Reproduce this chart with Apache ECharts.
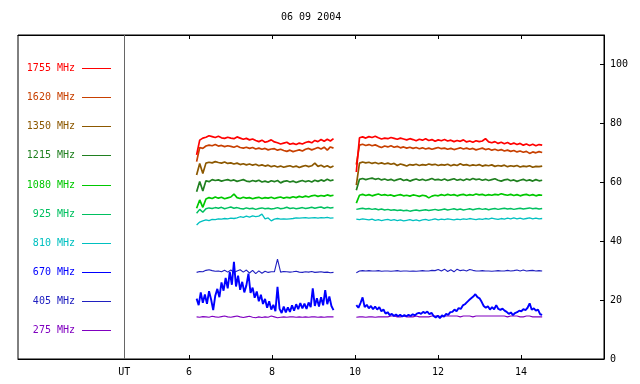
<!DOCTYPE html>
<html>
<head>
<meta charset="utf-8">
<script src="https://cdn.jsdelivr.net/npm/echarts@6/dist/echarts.min.js"></script>
<style>
html,body{margin:0;padding:0;background:#fff;}
#chart{width:640px;height:384px;}
</style>
</head>
<body>
<div id="chart"></div>
<script>
// ---- Data ----
const titleText = '06 09 2004';
const frequencies = ['1755 MHz','1620 MHz','1350 MHz','1215 MHz','1080 MHz','925 MHz','810 MHz','670 MHz','405 MHz','275 MHz'];
const xTickValues = [6, 8, 10, 12, 14];
const xUTValue = 4.434;
const yTickValues = [0, 20, 40, 60, 80, 100];
const seg1Range = [6.18, 9.48];   // UT hours covered by first block
const seg2Range = [10.03, 14.51]; // UT hours covered by second block

const f1755a = [69.3,74.3,75.0,75.3,75.8,75.5,75.2,75.6,75.1,74.9,75.3,75.0,74.8,75.4,75.0,74.6,74.9,74.4,74.7,74.2,73.8,74.3,73.6,73.9,74.4,73.7,73.4,73.0,73.3,73.6,72.9,73.2,72.8,73.3,73.0,73.5,73.8,73.4,74.2,73.8,74.5,73.9,74.6,74.0,74.8];
const f1755b = [63.5,75.1,75.4,75.0,75.5,75.2,75.6,75.1,74.7,75.0,74.8,75.2,74.9,74.6,75.0,74.7,74.4,74.8,74.5,74.1,74.6,74.3,74.8,74.2,74.5,73.9,74.4,74.1,74.5,74.0,74.3,73.8,74.2,73.9,74.4,73.7,74.0,73.6,74.1,73.8,74.0,74.8,73.7,73.4,73.8,73.2,73.6,73.1,73.5,72.9,73.3,72.8,73.2,72.6,73.0,72.5,72.9,72.4,72.8,72.6];

const f1620a = [67.0,71.8,71.5,72.3,72.6,72.4,72.8,72.3,72.5,72.1,72.4,72.2,71.9,72.3,71.8,71.6,71.9,71.5,71.8,71.3,71.6,71.2,71.5,71.0,71.3,71.4,70.9,71.2,70.8,70.5,70.9,70.4,70.7,71.0,70.6,71.2,71.5,71.0,71.4,71.8,71.3,71.9,70.9,72.0,71.6];
const f1620b = [66.0,72.6,72.9,72.5,72.8,72.4,72.7,72.2,71.8,72.3,72.0,72.4,71.9,72.2,71.7,72.0,71.6,71.9,71.5,71.8,71.4,71.7,71.3,71.6,71.2,71.5,71.8,71.4,71.6,71.2,71.5,71.1,71.4,71.7,71.3,71.6,71.2,71.5,71.0,71.3,71.6,71.1,71.4,70.9,71.2,70.8,71.1,70.6,70.9,70.5,70.8,70.3,70.6,70.2,70.5,69.8,70.3,70.0,70.4,70.1];

const f1350a = [62.5,66.4,63.0,66.5,66.8,66.6,67.0,66.7,66.5,66.9,66.4,66.6,66.2,66.5,66.0,66.3,65.9,66.2,65.8,66.1,65.6,65.9,65.5,65.8,65.3,65.6,65.2,65.5,65.1,65.4,65.6,65.2,65.5,65.0,65.4,65.7,65.3,65.6,66.5,65.4,65.8,65.2,65.6,65.0,65.5];
const f1350b = [59.0,66.5,66.9,66.6,66.8,66.4,66.7,66.3,66.6,66.2,66.5,66.1,66.4,65.7,66.2,65.9,65.5,66.0,65.8,66.1,65.7,66.0,65.8,66.2,65.9,66.1,65.7,66.0,65.8,66.1,65.6,66.0,65.7,66.3,65.8,66.0,65.6,65.9,65.7,66.0,65.5,65.8,65.6,65.9,65.4,65.7,65.5,65.8,65.3,65.6,65.4,65.7,65.2,65.5,65.3,65.6,65.1,65.4,65.3,65.5];

const f1215a = [56.8,60.3,57.0,60.5,60.2,60.9,60.6,60.8,60.4,60.7,60.9,60.5,60.8,60.3,60.6,60.9,60.4,60.2,60.6,60.3,60.7,60.1,60.4,60.0,60.5,60.2,60.6,59.8,60.3,60.5,60.1,60.4,59.9,60.3,60.6,60.2,60.5,60.1,60.7,60.3,60.8,60.4,61.0,60.5,60.8];
const f1215b = [57.3,61.0,61.3,60.9,61.2,61.4,61.0,61.3,60.8,61.1,60.7,61.0,60.5,60.9,61.2,60.6,60.9,60.4,60.8,61.1,60.7,61.0,60.6,60.9,61.3,60.8,61.0,60.7,61.1,60.6,60.9,61.2,60.7,61.0,60.6,61.1,60.8,61.3,60.9,61.1,60.7,61.0,60.6,60.9,61.2,60.7,60.4,60.8,61.0,60.5,60.8,60.3,60.7,61.0,60.5,60.8,60.4,60.9,60.5,60.7];

const f1080a = [51.2,54.0,51.5,54.3,54.8,54.5,55.0,54.6,54.9,54.4,54.7,55.0,56.0,54.8,54.5,54.9,54.6,54.8,54.4,54.7,54.9,54.5,54.8,54.6,54.9,54.5,54.8,55.0,54.6,54.9,54.7,55.1,54.8,55.2,54.9,55.3,55.0,55.4,55.6,55.2,55.5,55.3,55.7,55.4,55.6];
const f1080b = [52.9,55.6,55.9,55.5,55.8,55.4,55.7,56.0,55.6,55.8,55.5,55.7,55.3,55.6,55.8,55.4,55.6,55.3,55.7,55.5,55.2,55.6,55.4,54.7,55.3,55.6,55.4,55.8,55.5,55.9,55.6,55.8,55.4,55.7,55.9,55.5,55.8,55.6,56.0,55.7,55.9,55.5,55.8,55.6,55.9,55.7,56.1,55.8,55.6,55.9,55.5,55.8,55.4,55.7,55.9,55.5,55.8,55.4,55.7,55.6];

const f925a = [49.5,50.8,49.8,51.0,51.3,51.1,51.4,51.2,51.5,51.0,51.3,51.6,51.2,51.4,51.1,50.9,51.3,51.0,51.2,50.8,51.1,51.3,51.0,51.2,50.9,51.1,51.4,51.0,51.2,51.5,51.1,51.3,51.0,51.2,51.4,51.1,51.3,51.5,51.2,51.4,51.6,51.2,51.5,51.3,51.4];
const f925b = [50.8,51.0,51.2,50.9,51.1,50.8,51.0,50.7,50.9,50.6,50.8,50.5,50.7,50.4,50.6,50.3,50.5,50.2,50.4,50.6,50.3,50.5,50.7,50.4,50.6,50.8,50.5,50.7,50.9,50.6,50.8,51.0,50.7,50.9,50.6,50.8,51.0,50.7,50.9,51.1,50.8,51.0,50.7,50.9,51.1,50.8,51.0,51.2,50.9,51.1,50.8,51.0,51.2,50.9,51.1,51.3,51.0,51.2,50.9,51.1];

const f810a = [45.5,46.5,46.9,47.2,47.0,47.4,47.3,47.6,47.5,47.7,47.6,47.8,47.7,47.9,48.3,48.1,48.5,48.2,48.6,48.3,48.5,49.2,47.6,47.9,46.9,47.5,47.7,47.5,47.6,47.5,47.6,47.7,47.9,47.8,47.9,48.0,47.8,47.9,48.0,47.8,48.0,47.9,48.1,47.8,47.9];
const f810b = [47.5,47.3,47.6,47.4,47.2,47.5,47.1,47.3,47.0,47.2,47.4,47.1,47.3,47.0,47.2,46.9,47.1,47.3,47.0,47.2,46.9,47.2,47.4,47.1,47.3,47.6,47.2,47.5,47.3,47.6,47.4,47.2,47.5,47.3,47.6,47.4,47.7,47.5,47.3,47.6,47.4,47.7,47.5,47.8,47.6,47.4,47.7,47.5,47.8,47.6,47.9,47.6,47.8,47.5,47.7,47.9,47.6,47.8,47.6,47.7];

const f670a = [20.5,18.3,22.6,19.1,21.9,18.7,23.0,20.2,16.6,21.5,23.8,21.0,26.0,23.2,27.5,24.0,29.6,25.2,33.0,24.6,28.3,23.5,26.2,22.6,25.0,29.0,22.4,24.2,20.8,22.9,19.6,21.8,18.7,20.4,17.4,19.6,16.8,18.4,16.2,24.5,17.0,15.6,17.8,15.8,17.5,16.0,18.2,16.4,18.6,16.9,19.0,17.2,18.8,17.0,19.2,17.6,24.0,18.0,20.6,17.8,21.0,18.2,23.4,18.6,21.2,18.0,16.6];
const f670b = [18.3,17.4,19.0,20.9,17.6,18.4,17.2,18.0,16.9,17.8,16.8,17.6,16.2,16.8,15.4,15.9,14.9,15.3,14.6,15.1,14.5,15.0,14.4,14.9,14.5,15.0,14.6,15.2,14.8,15.4,15.7,15.3,16.0,15.6,16.1,15.2,15.7,14.6,14.1,14.7,13.9,14.8,14.4,15.3,15.0,15.9,16.0,16.8,16.2,17.3,17.0,18.2,18.6,19.3,20.0,20.6,21.2,22.0,21.0,20.6,19.4,18.0,17.4,17.9,16.8,17.6,16.9,18.3,17.0,16.7,17.1,16.4,16.0,15.3,15.8,14.9,15.6,15.9,16.4,16.2,16.9,16.6,17.4,18.9,16.7,17.2,16.4,16.8,15.2,15.0];

const f405a = [29.4,29.7,29.6,30.1,30.3,30.0,29.8,29.9,29.6,30.1,29.5,30.2,29.4,29.9,30.3,29.5,30.2,29.2,30.1,29.0,29.9,29.1,29.8,29.4,29.6,29.6,33.9,29.5,29.7,29.6,29.5,29.6,29.8,29.5,29.4,29.6,29.5,29.7,29.4,29.5,29.6,29.4,29.5,29.3,29.4];
const f405b = [29.3,29.9,30.0,29.9,30.0,29.9,29.9,30.0,29.8,29.9,29.9,29.8,29.9,30.0,29.8,29.9,29.9,29.8,29.9,29.8,29.9,30.0,29.9,29.9,30.1,30.0,30.4,29.9,30.5,29.7,30.3,29.6,30.5,30.0,30.2,29.9,30.4,30.1,29.9,29.9,30.0,29.9,29.9,29.8,29.9,30.0,29.9,29.9,30.1,29.9,30.0,30.2,29.9,30.2,29.9,30.0,30.1,29.9,30.0,29.9];

const f275a = [14.3,14.2,14.4,14.3,14.2,14.5,14.3,14.2,14.4,14.6,14.3,14.2,14.4,14.6,14.3,14.1,14.3,14.5,14.2,14.0,14.3,14.1,14.3,14.2,14.6,14.3,14.0,14.2,14.3,14.2,14.3,14.3,14.2,14.3,14.2,14.3,14.2,14.3,14.3,14.2,14.3,14.2,14.3,14.3,14.3];
const f275b = [14.2,14.3,14.3,14.2,14.3,14.3,14.2,14.3,14.3,14.3,14.3,14.6,14.6,14.3,14.3,14.6,14.3,14.3,14.3,14.6,14.3,14.3,14.3,14.3,14.6,14.6,14.6,14.3,14.6,14.6,14.6,14.6,14.6,14.3,14.6,14.6,14.6,14.3,14.6,14.6,14.6,14.6,14.6,14.6,14.6,14.6,14.6,14.6,14.3,14.6,14.6,14.6,14.3,14.3,14.6,14.6,14.3,14.3,14.3,14.3];

const seriesValues = {
  '1755 MHz': [f1755a, f1755b],
  '1620 MHz': [f1620a, f1620b],
  '1350 MHz': [f1350a, f1350b],
  '1215 MHz': [f1215a, f1215b],
  '1080 MHz': [f1080a, f1080b],
  '925 MHz':  [f925a,  f925b],
  '810 MHz':  [f810a,  f810b],
  '670 MHz':  [f670a,  f670b],
  '405 MHz':  [f405a,  f405b],
  '275 MHz':  [f275a,  f275b]
};

// ---- Styling ----
const colors = {
  '1755 MHz':'#ff0000','1620 MHz':'#c84000','1350 MHz':'#8c5800','1215 MHz':'#208020',
  '1080 MHz':'#00c800','925 MHz':'#00c060','810 MHz':'#00c0c0','670 MHz':'#0000ff',
  '405 MHz':'#2020c0','275 MHz':'#8000c0'
};
const widths = {
  '1755 MHz':1.7,'1620 MHz':1.7,'1350 MHz':1.7,'1215 MHz':1.7,'1080 MHz':1.7,
  '925 MHz':1.5,'810 MHz':1.3,'670 MHz':1.9,'405 MHz':1.1,'275 MHz':1.1
};
const FONT = 'DejaVu Sans Mono';

function segData(vals, range) {
  const n = vals.length;
  const step = (range[1] - range[0]) / (n - 1);
  return vals.map((v, i) => [range[0] + i * step, v]);
}

const drawOrder = ['275 MHz','405 MHz','670 MHz','810 MHz','925 MHz','1080 MHz','1215 MHz','1350 MHz','1620 MHz','1755 MHz'];
const series = [];
drawOrder.forEach((name, k) => {
  const segs = seriesValues[name];
  [seg1Range, seg2Range].forEach((range, j) => {
    const s = {
      name, type: 'line', data: segData(segs[j], range), showSymbol: false, symbol: 'none',
      lineStyle: { color: colors[name], width: widths[name] }, itemStyle: { color: colors[name] },
      silent: true, animation: false, z: 2 + k
    };
    if (k === 0 && j === 0) {
      s.markLine = {
        silent: true, symbol: 'none', animation: false,
        label: { show: false },
        lineStyle: { color: '#666666', type: 'solid', width: 1 },
        data: [{ xAxis: xUTValue }]
      };
    }
    series.push(s);
  });
});

const chart = echarts.init(document.getElementById('chart'), null, { renderer: 'canvas' });
const option = {
  backgroundColor: '#ffffff',
  animation: false,
  title: {
    text: titleText, left: 281, top: 12, padding: 0,
    textStyle: { fontFamily: FONT, fontSize: 10, fontWeight: 'normal', color: '#000' }
  },
  grid: { left: 18, right: 36, top: 35, bottom: 25, show: true, borderColor: '#000', borderWidth: 1 },
  xAxis: [{
    type: 'value', position: 'bottom', min: 1.875, max: 16,
    axisLine: { show: true, lineStyle: { color: '#000', width: 1 } },
    axisTick: { show: true, inside: true, length: 4, customValues: xTickValues, lineStyle: { color: '#000' } },
    axisLabel: {
      show: true, customValues: [xUTValue].concat(xTickValues), margin: 8,
      fontFamily: FONT, fontSize: 10, color: '#000',
      formatter: v => (Math.abs(v - xUTValue) < 1e-6 ? 'UT' : String(v))
    },
    splitLine: { show: false }
  }, {
    type: 'value', position: 'top', min: 1.875, max: 16,
    axisLine: { show: true, lineStyle: { color: '#000', width: 1 } },
    axisTick: { show: true, inside: true, length: 4, customValues: xTickValues, lineStyle: { color: '#000' } },
    axisLabel: { show: false },
    splitLine: { show: false }
  }],
  yAxis: [{
    type: 'value', position: 'right', min: 0, max: 110, interval: 20,
    axisLine: { show: true, lineStyle: { color: '#000', width: 1 } },
    axisTick: { show: true, inside: true, length: 4, customValues: yTickValues, lineStyle: { color: '#000' } },
    axisLabel: { show: true, customValues: yTickValues, margin: 6, fontFamily: FONT, fontSize: 10, color: '#000' },
    splitLine: { show: false }
  }],
  series
};
chart.setOption(option);

// Legend block on the left (label + short line for each frequency)
const legendGraphics = [];
frequencies.forEach((name, i) => {
  const y = Math.round(68 + i * 29.15) + 0.5;
  legendGraphics.push({
    type: 'text', x: 75, y: y,
    style: { text: name, fill: colors[name], font: '10px "' + FONT + '"', align: 'right', verticalAlign: 'middle' },
    silent: true
  });
  legendGraphics.push({
    type: 'line', shape: { x1: 82, y1: y, x2: 111, y2: y },
    style: { stroke: colors[name], lineWidth: 1 }, silent: true
  });
});
chart.setOption({ graphic: legendGraphics });
</script>
</body>
</html>
